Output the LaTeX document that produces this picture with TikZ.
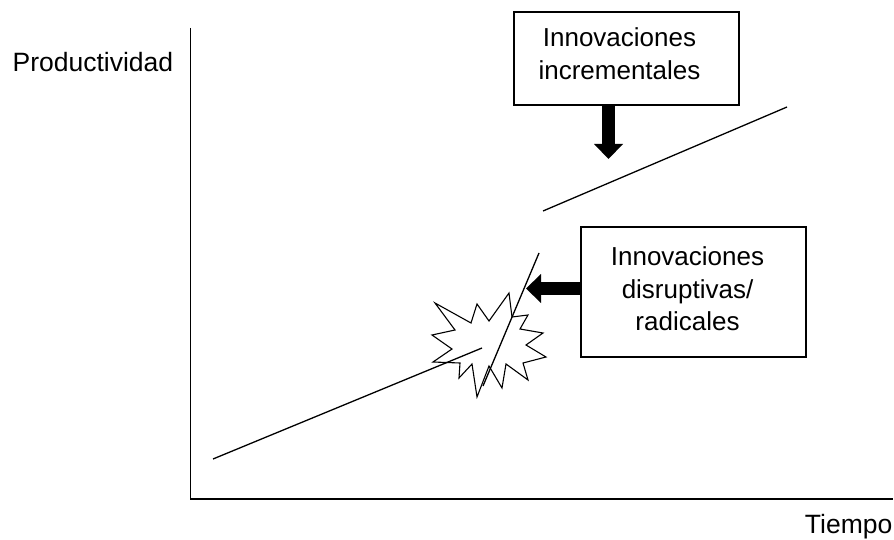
\documentclass[tikz,border=0pt]{standalone}
\usepackage{fontspec}
\setmainfont{Liberation Sans}
\usetikzlibrary{arrows.meta}

\begin{document}
\begin{tikzpicture}[x=1pt,y=-1pt,line width=1.3pt,
   caja/.style={draw,minimum width=225pt},
   texto caja/.style={align=center,inner sep=0pt,font=\fontsize{26}{32.5}\selectfont},
   etiqueta/.style={inner sep=0pt,font=\fontsize{26.5}{30}\selectfont},
   flecha gruesa/.style={line width=13pt,
     -{Triangle[length=15pt,width=29pt,line width=0pt]}}]

  \useasboundingbox (0,0) rectangle (894,540);

  \node[etiqueta,anchor=base west](prod) at (12,72) {Productividad};
  \node[etiqueta,anchor=base east](tiempo) at (893,533) {Tiempo};
  \node[caja,minimum height=93pt](incr) at (626.5,58.5) {};
  \node[texto caja] at ([shift={(-7,-5)}]incr.center) {Innovaciones\\incrementales};
  \node[caja,minimum height=130pt](radi) at (693.5,292) {};
  \node[texto caja] at ([shift={(-6,-3)}]radi.center) {Innovaciones\\disruptivas/\\radicales};

  \coordinate (ytop) at (190.5,28);
  \coordinate (xfin) at (893,499);
  \coordinate (a1) at (213,459);
  \coordinate (a2) at (482,348);
  \coordinate (b1) at (539,253);
  \coordinate (b2) at (483,386);
  \coordinate (c1) at (543,211);
  \coordinate (c2) at (787,107);
  \coordinate (p1) at (608.5,159);
  \coordinate (p2) at (526,288.5);

  % estallido
  \draw[fill=white,line width=1.1pt] (435,303) -- (471,323) -- (477,304) -- (489,321)
    -- (509,293) -- (512,317) -- (528,315) -- (520,329) -- (543,333) -- (526,345)
    -- (546,357) -- (523,363) -- (528,380) -- (506,364) -- (502,388) -- (489,366)
    -- (477,397) -- (472,364) -- (459,378) -- (460,363) -- (433,362) -- (452,349)
    -- (432,335) -- (455,330) -- cycle;

  \draw[line width=1.5pt] (ytop) |- (xfin);
  \foreach \de/\a in {a1/a2,b1/b2,c1/c2} \draw (\de) -- (\a);

  \draw[flecha gruesa] (incr.south -| p1) -- (p1);
  \draw[flecha gruesa] (radi.west |- p2) -- (p2);
\end{tikzpicture}
\end{document}
